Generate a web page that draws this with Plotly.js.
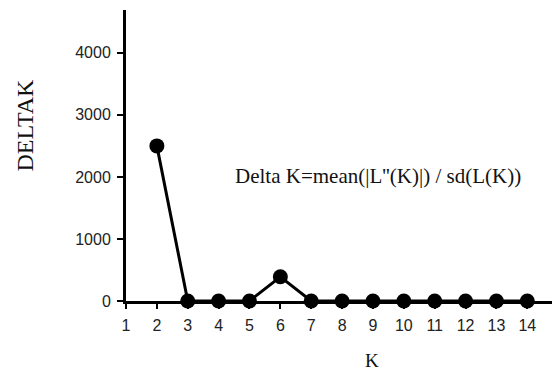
<!DOCTYPE html>
<html>
<head>
<meta charset="utf-8">
<script src="https://cdn.plot.ly/plotly-3.0.1.min.js"></script>
<style>html,body{margin:0;padding:0;background:#fff;}#chart{width:552px;height:376px;}</style>
</head>
<body>
<div id="chart"></div>
<script>
const kValues = [2, 3, 4, 5, 6, 7, 8, 9, 10, 11, 12, 13, 14];
const deltaK = [2500, 0, 0, 0, 390, 0, 0, 0, 0, 0, 0, 0, 0];
const xTicks = [1, 2, 3, 4, 5, 6, 7, 8, 9, 10, 11, 12, 13, 14];
const yTicks = [0, 1000, 2000, 3000, 4000];
const xTitle = 'K';
const yTitle = 'DELTAK';
const formulaText = "Delta K=mean(|L''(K)|) / sd(L(K))";

const serif = 'Liberation Serif, Times New Roman, serif';

const trace = {
  x: kValues, y: deltaK, type: 'scatter', mode: 'lines+markers',
  line: {color: '#000', width: 3},
  marker: {color: '#000', size: 15},
  cliponaxis: false, hoverinfo: 'none'
};

const layout = {
  width: 552, height: 376,
  margin: {l: 126, r: 0, t: 10, b: 75},
  paper_bgcolor: '#fff', plot_bgcolor: '#fff',
  showlegend: false,
  font: {family: 'Liberation Sans, Arial, sans-serif', color: '#222', size: 16},
  xaxis: {
    range: [1, 14.8], tickvals: xTicks, ticktext: xTicks.map(String),
    showline: true, linecolor: '#000', linewidth: 3,
    ticks: 'outside', ticklen: 5, tickwidth: 2, tickcolor: '#000',
    ticklabelstandoff: 3,
    showgrid: false, zeroline: false
  },
  yaxis: {
    range: [0, 4690], tickvals: yTicks, ticktext: yTicks.map(String),
    showline: true, linecolor: '#000', linewidth: 3,
    ticks: 'outside', ticklen: 6, tickwidth: 2, tickcolor: '#000',
    ticklabelstandoff: 3,
    showgrid: false, zeroline: false
  },
  annotations: [
    {x: 9.15, y: 2015, xref: 'x', yref: 'y', text: formulaText, showarrow: false,
     xanchor: 'center', yanchor: 'middle',
     font: {family: serif, size: 21, color: '#111'}},
    {x: 0.577, y: -0.206, xref: 'paper', yref: 'paper', text: xTitle, showarrow: false,
     xanchor: 'center', yanchor: 'middle',
     font: {family: serif, size: 19, color: '#111'}},
    {x: -0.238, y: 0.605, xref: 'paper', yref: 'paper', text: yTitle, showarrow: false, textangle: -90,
     xanchor: 'center', yanchor: 'middle',
     font: {family: serif, size: 24, color: '#111'}}
  ]
};

Plotly.newPlot('chart', [trace], layout, {displayModeBar: false, staticPlot: true});
</script>
</body>
</html>
